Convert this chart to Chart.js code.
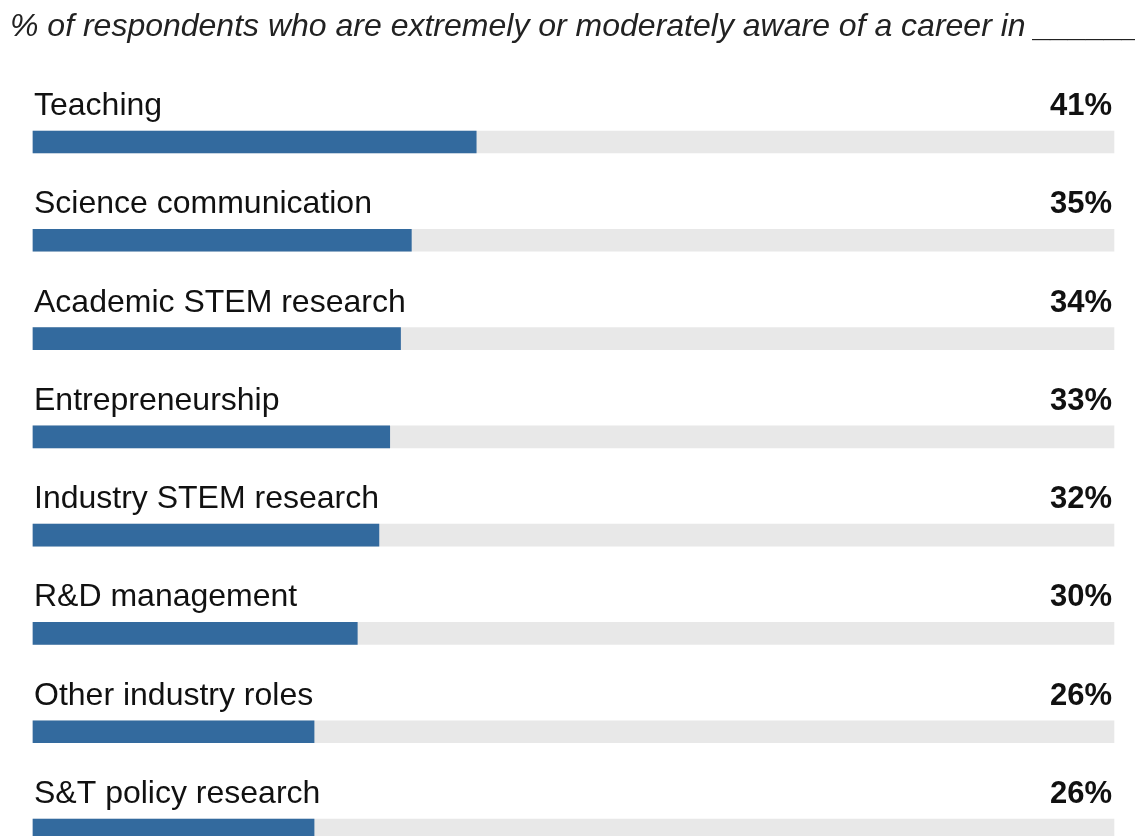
<!DOCTYPE html>
<html>
<head>
<meta charset="utf-8">
<script src="https://cdn.jsdelivr.net/npm/chart.js@4/dist/chart.umd.min.js"></script>
<style>
  html, body { margin: 0; padding: 0; background: #ffffff; overflow: hidden; }
  #wrap { position: relative; width: 1135px; height: 836px; }
</style>
</head>
<body>
<div id="wrap"><canvas id="chart" width="1135" height="836"></canvas></div>
<script>
// Careers and share of respondents aware of each
const careers = [
  'Teaching',
  'Science communication',
  'Academic STEM research',
  'Entrepreneurship',
  'Industry STEM research',
  'R&D management',
  'Other industry roles',
  'S&T policy research'
];
const awarePct = [41, 35, 34, 33, 32, 30, 26, 26];
const scaleMax = 100;
const trackValues = careers.map(() => scaleMax);
const titleText = '% of respondents who are extremely or moderately aware of a career in ______';

const BLUE = '#336a9e';
const TRACK = '#e8e8e8';
const FONT = '"Liberation Sans", Arial, Helvetica, sans-serif';

// Category label above each bar, value on the right, title on top
const labelsPlugin = {
  id: 'rowLabels',
  afterDatasetsDraw(chart) {
    const { ctx } = chart;
    const y = chart.scales.y;
    const x = chart.scales.x;
    ctx.save();
    ctx.textBaseline = 'alphabetic';
    careers.forEach((name, i) => {
      const cy = y.getPixelForValue(i);
      const base = cy - 27;
      ctx.fillStyle = '#111111';
      ctx.font = '32px ' + FONT;
      ctx.textAlign = 'left';
      ctx.fillText(name, x.left + 1, base);
      ctx.font = 'bold 31px ' + FONT;
      ctx.textAlign = 'right';
      ctx.fillText(awarePct[i] + '%', x.right - 2, base);
    });
    ctx.font = 'italic 32px ' + FONT;
    ctx.fillStyle = '#222222';
    ctx.textAlign = 'left';
    ctx.fillText(titleText, 10, 36);
    ctx.restore();
  }
};

new Chart(document.getElementById('chart'), {
  type: 'bar',
  data: {
    labels: careers,
    datasets: [
      {
        data: awarePct,
        backgroundColor: BLUE,
        barThickness: 22,
        grouped: false,
        clip: false,
        borderWidth: 0
      },
      {
        data: trackValues,
        backgroundColor: TRACK,
        barThickness: 22,
        grouped: false,
        clip: false,
        borderWidth: 0
      }
    ]
  },
  options: {
    indexAxis: 'y',
    responsive: false,
    animation: false,
    events: [],
    layout: { padding: { left: 33, right: 21, top: 142, bottom: 6 } },
    plugins: {
      legend: { display: false },
      tooltip: { enabled: false },
      title: { display: false }
    },
    scales: {
      x: { display: false, min: 0, max: scaleMax },
      y: { display: false, offset: false, grid: { display: false } }
    }
  },
  plugins: [labelsPlugin]
});
</script>
</body>
</html>
